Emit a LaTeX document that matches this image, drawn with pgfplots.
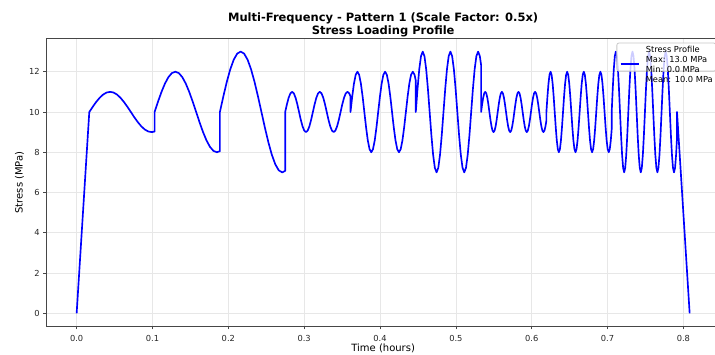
\documentclass[border=0pt]{standalone}
\usepackage{fontspec}
\setmainfont{DejaVu Sans}
\usepackage{pgfplots}
\pgfplotsset{compat=1.18}

\definecolor{gridgray}{RGB}{231,231,231}
\definecolor{spine}{RGB}{70,70,70}

\begin{document}
\begin{tikzpicture}
\begin{axis}[
  at={(0pt,0pt)}, anchor=south west,
  scale only axis,
  width=674.3pt, height=287.9pt,
  xmin=-0.04041, xmax=0.84865,
  ymin=-0.65, ymax=13.65,
  xtick={0,0.1,0.2,0.3,0.4,0.5,0.6,0.7,0.8},
  ytick={0,2,4,6,8,10,12},
  xticklabel style={/pgf/number format/fixed, /pgf/number format/fixed zerofill,
    /pgf/number format/precision=1, /tikz/yshift=-2.5pt},
  /pgf/number format/assume math mode=true,
  tick label style={font=\fontsize{8.3}{10}\selectfont, text=black!85},
  xtick pos=bottom, ytick pos=left,
  tick align=outside,
  major tick length=2.9pt,
  tick style={spine, line width=0.66pt},
  axis line style={spine, line width=0.8pt},
  grid=major,
  major grid style={gridgray, line width=0.66pt},
  xlabel={Time (hours)},
  ylabel={Stress (MPa)},
  label style={font=\fontsize{10}{12}\selectfont},
  xlabel style={at={(axis description cs:0.5,0)}, anchor=base, yshift=-25.3pt},
  ylabel style={at={(axis description cs:-0.0393,0.5)}, anchor=center, rotate=0},
  title={Multi-Frequency - Pattern 1 (Scale Factor: 0.5x)\\Stress Loading Profile},
  title style={font=\bfseries\fontsize{11.5}{13}\selectfont, align=center,
    at={(axis description cs:0.5,1)}, anchor=south, inner sep=0pt, yshift=-4.5pt},
  legend style={at={(rel axis cs:1,1)}, anchor=north east,
    xshift=-4.15pt, yshift=-4.15pt,
    draw=black!22, line width=0.8pt, fill=white, fill opacity=0.8, text opacity=1,
    rounded corners=2pt, inner xsep=3pt, inner ysep=2.3pt,
    nodes={inner sep=0pt}, column sep=6pt,
    font=\fontsize{8.3}{10}\selectfont},
  legend cell align=left,
  legend image code/.code={\draw[#1] (0pt,-7pt) -- (18.3pt,-7pt);},
]

% ramp up, three slow segments, three medium, three fast, ramp down
\addplot[color={rgb,255:red,0;green,0;blue,255}, line width=1.66pt, line join=round] coordinates {
(0,0) (0.01667,10)
% segment 1 (amplitude 1)
(0.02123,10.259) (0.02580,10.5) (0.03036,10.707) (0.03493,10.866) (0.03949,10.966)
(0.04405,11) (0.04862,10.966) (0.05318,10.866) (0.05775,10.707) (0.06231,10.5)
(0.06687,10.259) (0.07144,10) (0.07600,9.741) (0.08057,9.5) (0.08513,9.293)
(0.08969,9.134) (0.09426,9.034) (0.09882,9) (0.10277,9.026)
% segment 2 (amplitude 2)
(0.10277,10) (0.10733,10.518) (0.11190,11) (0.11646,11.414) (0.12103,11.732)
(0.12559,11.932) (0.13015,12) (0.13472,11.932) (0.13928,11.732) (0.14385,11.414)
(0.14841,11) (0.15297,10.518) (0.15754,10) (0.16210,9.482) (0.16667,9)
(0.17123,8.586) (0.17579,8.268) (0.18036,8.068) (0.18492,8) (0.18887,8.051)
% segment 3 (amplitude 3)
(0.18887,10) (0.19343,10.776) (0.19800,11.5) (0.20256,12.121) (0.20713,12.598)
(0.21169,12.898) (0.21625,13) (0.22082,12.898) (0.22538,12.598) (0.22995,12.121)
(0.23451,11.5) (0.23907,10.776) (0.24364,10) (0.24820,9.224) (0.25277,8.5)
(0.25733,7.879) (0.26189,7.402) (0.26646,7.102) (0.27102,7) (0.27497,7.077)
% segment 4 (amplitude 1, triple frequency)
(0.27497,10) (0.27725,10.383) (0.27953,10.707) (0.28182,10.924) (0.28410,11)
(0.28638,10.924) (0.28866,10.707) (0.29095,10.383) (0.29323,10) (0.29551,9.617)
(0.29779,9.293) (0.30007,9.076) (0.30236,9) (0.30464,9.076) (0.30692,9.293)
(0.30920,9.617) (0.31148,10) (0.31377,10.383) (0.31605,10.707) (0.31833,10.924)
(0.32061,11) (0.32289,10.924) (0.32518,10.707) (0.32746,10.383) (0.32974,10)
(0.33202,9.617) (0.33431,9.293) (0.33659,9.076) (0.33887,9) (0.34115,9.076)
(0.34343,9.293) (0.34572,9.617) (0.34800,10) (0.35028,10.383) (0.35256,10.707)
(0.35484,10.924) (0.35713,11) (0.35941,10.924) (0.36107,10.778)
% segment 5 (amplitude 2, triple frequency)
(0.36107,10) (0.36335,10.765) (0.36563,11.414) (0.36792,11.848) (0.37020,12)
(0.37248,11.848) (0.37476,11.414) (0.37705,10.765) (0.37933,10) (0.38161,9.235)
(0.38389,8.586) (0.38617,8.152) (0.38846,8) (0.39074,8.152) (0.39302,8.586)
(0.39530,9.235) (0.39758,10) (0.39987,10.765) (0.40215,11.414) (0.40443,11.848)
(0.40671,12) (0.40899,11.848) (0.41128,11.414) (0.41356,10.765) (0.41584,10)
(0.41812,9.235) (0.42041,8.586) (0.42269,8.152) (0.42497,8) (0.42725,8.152)
(0.42953,8.586) (0.43182,9.235) (0.43410,10) (0.43638,10.765) (0.43866,11.414)
(0.44094,11.848) (0.44323,12) (0.44551,11.848) (0.44717,11.557)
% segment 6 (amplitude 3, triple frequency)
(0.44717,10) (0.44945,11.148) (0.45173,12.121) (0.45402,12.772) (0.45630,13)
(0.45858,12.772) (0.46086,12.121) (0.46315,11.148) (0.46543,10) (0.46771,8.852)
(0.46999,7.879) (0.47227,7.228) (0.47456,7) (0.47684,7.228) (0.47912,7.879)
(0.48140,8.852) (0.48368,10) (0.48597,11.148) (0.48825,12.121) (0.49053,12.772)
(0.49281,13) (0.49509,12.772) (0.49738,12.121) (0.49966,11.148) (0.50194,10)
(0.50422,8.852) (0.50651,7.879) (0.50879,7.228) (0.51107,7) (0.51335,7.228)
(0.51563,7.879) (0.51792,8.852) (0.52020,10) (0.52248,11.148) (0.52476,12.121)
(0.52704,12.772) (0.52933,13) (0.53161,12.772) (0.53327,12.335)
% segment 7 (amplitude 1, fivefold frequency)
(0.53327,10) (0.53464,10.383) (0.53601,10.707) (0.53738,10.924) (0.53875,11)
(0.54012,10.924) (0.54149,10.707) (0.54286,10.383) (0.54422,10) (0.54559,9.617)
(0.54696,9.293) (0.54833,9.076) (0.54970,9) (0.55107,9.076) (0.55244,9.293)
(0.55381,9.617) (0.55518,10) (0.55655,10.383) (0.55792,10.707) (0.55929,10.924)
(0.56066,11) (0.56203,10.924) (0.56340,10.707) (0.56476,10.383) (0.56613,10)
(0.56750,9.617) (0.56887,9.293) (0.57024,9.076) (0.57161,9) (0.57298,9.076)
(0.57435,9.293) (0.57572,9.617) (0.57709,10) (0.57846,10.383) (0.57983,10.707)
(0.58120,10.924) (0.58257,11) (0.58393,10.924) (0.58530,10.707) (0.58667,10.383)
(0.58804,10) (0.58941,9.617) (0.59078,9.293) (0.59215,9.076) (0.59352,9)
(0.59489,9.076) (0.59626,9.293) (0.59763,9.617) (0.59900,10) (0.60037,10.383)
(0.60174,10.707) (0.60310,10.924) (0.60447,11) (0.60584,10.924) (0.60721,10.707)
(0.60858,10.383) (0.60995,10) (0.61132,9.617) (0.61269,9.293) (0.61406,9.076)
(0.61543,9) (0.61680,9.076) (0.61817,9.293) (0.61937,9.574)
% segment 8 (amplitude 2, fivefold frequency)
(0.61937,10) (0.62074,10.765) (0.62211,11.414) (0.62348,11.848) (0.62485,12)
(0.62622,11.848) (0.62759,11.414) (0.62896,10.765) (0.63032,10) (0.63169,9.235)
(0.63306,8.586) (0.63443,8.152) (0.63580,8) (0.63717,8.152) (0.63854,8.586)
(0.63991,9.235) (0.64128,10) (0.64265,10.765) (0.64402,11.414) (0.64539,11.848)
(0.64676,12) (0.64813,11.848) (0.64950,11.414) (0.65086,10.765) (0.65223,10)
(0.65360,9.235) (0.65497,8.586) (0.65634,8.152) (0.65771,8) (0.65908,8.152)
(0.66045,8.586) (0.66182,9.235) (0.66319,10) (0.66456,10.765) (0.66593,11.414)
(0.66730,11.848) (0.66867,12) (0.67003,11.848) (0.67140,11.414) (0.67277,10.765)
(0.67414,10) (0.67551,9.235) (0.67688,8.586) (0.67825,8.152) (0.67962,8)
(0.68099,8.152) (0.68236,8.586) (0.68373,9.235) (0.68510,10) (0.68647,10.765)
(0.68784,11.414) (0.68920,11.848) (0.69057,12) (0.69194,11.848) (0.69331,11.414)
(0.69468,10.765) (0.69605,10) (0.69742,9.235) (0.69879,8.586) (0.70016,8.152)
(0.70153,8) (0.70290,8.152) (0.70427,8.586) (0.70547,9.148)
% segment 9 (amplitude 3, fivefold frequency)
(0.70547,10) (0.70684,11.148) (0.70821,12.121) (0.70958,12.772) (0.71095,13)
(0.71232,12.772) (0.71369,12.121) (0.71506,11.148) (0.71642,10) (0.71779,8.852)
(0.71916,7.879) (0.72053,7.228) (0.72190,7) (0.72327,7.228) (0.72464,7.879)
(0.72601,8.852) (0.72738,10) (0.72875,11.148) (0.73012,12.121) (0.73149,12.772)
(0.73286,13) (0.73423,12.772) (0.73560,12.121) (0.73696,11.148) (0.73833,10)
(0.73970,8.852) (0.74107,7.879) (0.74244,7.228) (0.74381,7) (0.74518,7.228)
(0.74655,7.879) (0.74792,8.852) (0.74929,10) (0.75066,11.148) (0.75203,12.121)
(0.75340,12.772) (0.75477,13) (0.75613,12.772) (0.75750,12.121) (0.75887,11.148)
(0.76024,10) (0.76161,8.852) (0.76298,7.879) (0.76435,7.228) (0.76572,7)
(0.76709,7.228) (0.76846,7.879) (0.76983,8.852) (0.77120,10) (0.77257,11.148)
(0.77394,12.121) (0.77530,12.772) (0.77667,13) (0.77804,12.772) (0.77941,12.121)
(0.78078,11.148) (0.78215,10) (0.78352,8.852) (0.78489,7.879) (0.78626,7.228)
(0.78763,7) (0.78900,7.228) (0.79037,7.879) (0.79157,8.723)
% ramp down
(0.79157,10) (0.80824,0)
};
\addlegendentry{\begin{tabular}{@{}l@{}}Stress Profile\\Max: 13.0 MPa\\Min: 0.0 MPa\\Mean: 10.0 MPa\end{tabular}}
\end{axis}
\pgfresetboundingbox
\path[use as bounding box] (-46pt,-28.6pt) rectangle (669pt,326.4pt);
\end{tikzpicture}
\end{document}
